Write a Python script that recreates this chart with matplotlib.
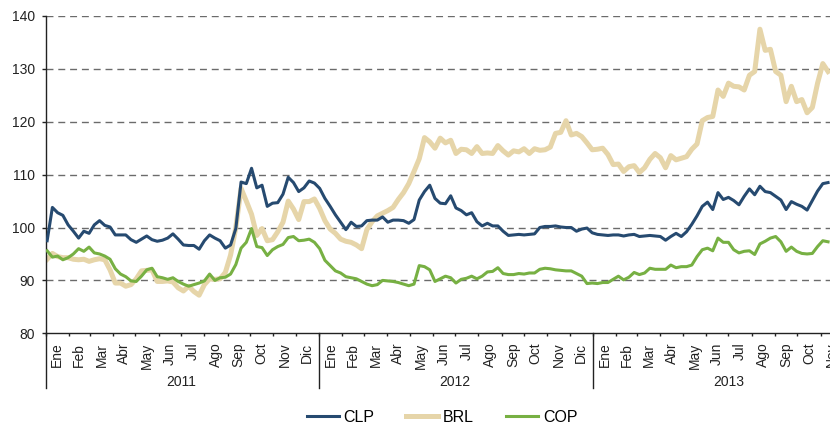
import matplotlib.pyplot as plt
import matplotlib.dates as mdates
import matplotlib.transforms as mtransforms
import pandas as pd

plt.rcParams['font.family'] = ['Liberation Sans', 'DejaVu Sans']

# Paridades (índice), datos semanales desde el 3 de enero de 2011
inicio = '2011-01-03'

clp = [97.5, 103.8, 102.8, 102.3, 100.5, 99.3, 98.0, 99.3, 98.9, 100.5,
       101.3, 100.4, 100.1, 98.6, 98.6, 98.6, 97.7, 97.2, 97.8, 98.4,
       97.7, 97.4, 97.6, 98.0, 98.8, 97.8, 96.7, 96.6, 96.6, 95.9,
       97.5, 98.6, 98.0, 97.5, 96.1, 96.7, 99.8, 108.6, 108.3, 111.2,
       107.5, 108.0, 104.0, 104.6, 104.7, 106.3, 109.5, 108.5, 106.8, 107.5,
       108.8, 108.4, 107.4, 105.5, 104.0, 102.4, 101.0, 99.6, 101.0, 100.2,
       100.3, 101.3, 101.4, 101.4, 102.0, 101.0, 101.4, 101.4, 101.3, 100.8,
       101.5, 105.2, 106.8, 108.0, 105.5, 104.6, 104.5, 106.0, 103.7, 103.2,
       102.4, 102.8, 101.1, 100.3, 100.8, 100.3, 100.3, 99.3, 98.5, 98.6,
       98.7, 98.6, 98.7, 98.8, 100.0, 100.2, 100.2, 100.3, 100.1, 100.0,
       100.0, 99.3, 99.7, 99.9, 99.0, 98.7, 98.6, 98.5, 98.6, 98.6,
       98.4, 98.6, 98.7, 98.3, 98.4, 98.5, 98.4, 98.3, 97.6, 98.3,
       98.9, 98.3, 99.2, 100.6, 102.2, 104.0, 104.8, 103.4, 106.6, 105.3,
       105.7, 105.1, 104.3, 105.9, 107.3, 106.2, 107.8, 106.8, 106.6, 105.9,
       105.2, 103.4, 104.9, 104.4, 104.0, 103.3, 105.1, 106.9, 108.3, 108.5]

brl = [94.0, 95.1, 94.5, 94.3, 94.3, 94.0, 93.9, 94.0, 93.6, 93.9,
       94.1, 93.9, 92.0, 89.5, 89.5, 88.9, 89.2, 90.3, 91.8, 91.9,
       92.0, 89.8, 89.8, 89.9, 89.7, 88.6, 88.0, 88.9, 87.9, 87.2,
       89.2, 90.3, 90.2, 90.3, 91.5, 94.8, 100.0, 107.4, 105.0, 102.5,
       98.5, 99.8, 97.5, 97.7, 99.2, 101.0, 105.0, 103.5, 101.5, 104.9,
       104.9, 105.4, 103.6, 101.3, 99.7, 98.9, 97.8, 97.4, 97.2, 96.7,
       96.0, 99.6, 101.1, 102.2, 102.7, 103.2, 103.8, 105.3, 106.6, 108.3,
       110.6, 113.0, 117.0, 116.2, 115.0, 116.9, 116.0, 116.5, 114.0, 114.8,
       114.7, 114.0, 115.3, 114.0, 114.1, 114.0, 115.5, 114.5, 113.7, 114.5,
       114.3, 114.9, 114.0, 114.9, 114.6, 114.7, 115.2, 117.8, 118.0, 120.2,
       117.5, 117.8, 117.2, 116.0, 114.7, 114.8, 115.0, 113.8, 111.9, 112.0,
       110.6, 111.5, 111.7, 110.4, 111.3, 112.9, 114.0, 113.2, 111.3, 113.6,
       112.8, 113.1, 113.4, 114.8, 115.8, 120.2, 120.8, 121.0, 126.0, 124.8,
       127.3, 126.7, 126.6, 126.0, 128.8, 129.5, 137.5, 133.5, 133.7, 129.5,
       128.8, 123.8, 126.7, 123.8, 124.2, 121.7, 122.7, 127.3, 131.0, 129.5]

cop = [95.6, 94.4, 94.6, 93.9, 94.3, 95.0, 96.0, 95.5, 96.3, 95.2,
       95.0, 94.6, 94.0, 92.2, 91.2, 90.7, 89.9, 89.8, 90.8, 92.0,
       92.3, 90.7, 90.5, 90.2, 90.5, 89.8, 89.3, 88.9, 89.2, 89.5,
       89.9, 91.2, 90.0, 90.5, 90.6, 91.2, 93.0, 96.1, 97.2, 99.8,
       96.4, 96.2, 94.7, 95.8, 96.4, 96.8, 98.1, 98.3, 97.5, 97.6,
       97.8, 97.2, 96.0, 93.8, 92.8, 91.8, 91.4, 90.7, 90.5, 90.3,
       89.8, 89.3, 89.0, 89.2, 90.0, 89.9, 89.8, 89.6, 89.3, 89.0,
       89.3, 92.8, 92.6, 92.0, 89.8, 90.3, 90.8, 90.5, 89.5, 90.2,
       90.4, 90.8, 90.3, 90.8, 91.6, 91.7, 92.4, 91.3, 91.1, 91.1,
       91.3, 91.2, 91.4, 91.4, 92.1, 92.3, 92.2, 92.0, 91.9, 91.8,
       91.8, 91.3, 90.8, 89.4, 89.5, 89.4, 89.6, 89.6, 90.2, 90.8,
       90.1, 90.6, 91.5, 91.1, 91.4, 92.3, 92.1, 92.1, 92.1, 92.9,
       92.4, 92.6, 92.6, 92.9, 94.5, 95.8, 96.1, 95.6, 98.0, 97.2,
       97.2, 95.8, 95.2, 95.5, 95.6, 94.9, 96.9, 97.4, 98.0, 98.3,
       97.3, 95.5, 96.3, 95.5, 95.1, 95.0, 95.1, 96.4, 97.5, 97.3]

meses = ['Ene', 'Feb', 'Mar', 'Abr', 'May', 'Jun',
         'Jul', 'Ago', 'Sep', 'Oct', 'Nov', 'Dic']
anios = ['2011', '2012', '2013']

fechas = pd.date_range(inicio, periods=len(clp), freq='7D')

fig = plt.figure(figsize=(8.3, 4.25), dpi=100)
ax = fig.add_axes([0.055, 0.2158, 0.945, 0.7466])

l_brl, = ax.plot(fechas, brl, color='#E6D5A9', lw=3.6, zorder=2, solid_joinstyle='round')
l_clp, = ax.plot(fechas, clp, color='#264A70', lw=2.2, zorder=3, solid_joinstyle='round')
l_cop, = ax.plot(fechas, cop, color='#77B043', lw=2.2, zorder=4, solid_joinstyle='round')

# eje y
ax.set_ylim(80, 140)
ax.set_yticks(range(80, 141, 10))
ax.tick_params(axis='y', direction='out', length=3, width=1, pad=4.5,
               labelsize=10, colors='#222222')
for y in range(90, 141, 10):
    ax.axhline(y, color='#6b6b6b', lw=1.0, ls=(0, (5, 3.5)), zorder=1)

# eje x: marcas en el inicio de cada mes
x0 = pd.Timestamp('2011-01-01')
ax.set_xlim(mdates.date2num(x0), mdates.date2num(x0 + pd.Timedelta(days=1047.6)))
inicios_mes = pd.date_range('2011-01-01', '2013-12-01', freq='MS')
ax.set_xticks(inicios_mes[:-1])
ax.set_xticklabels([])
ax.tick_params(axis='x', direction='out', length=2.5, width=1, colors='#222222')

for s in ['top', 'right']:
    ax.spines[s].set_visible(False)
for s in ['left', 'bottom']:
    ax.spines[s].set_color('#222222')
    ax.spines[s].set_linewidth(1.0)

trans = mtransforms.blended_transform_factory(ax.transData, ax.transAxes)

# etiquetas de mes centradas en cada mes
for a, b in zip(inicios_mes[:-1], inicios_mes[1:]):
    centro = a + (b - a) / 2
    ax.annotate(meses[a.month - 1], xy=(mdates.date2num(centro), 0), xycoords=trans,
                xytext=(0, -6.8), textcoords='offset points', rotation=90,
                ha='center', va='top', fontsize=10, color='#222222',
                annotation_clip=False)

# separadores y etiquetas de año
for i, anio in enumerate(anios):
    ini = pd.Timestamp(f'{anio}-01-01')
    xi = mdates.date2num(ini)
    ax.plot([xi, xi], [0, -0.1735], transform=trans, color='#222222', lw=1.0,
            clip_on=False)
    medio = mdates.date2num(pd.Timestamp(f'{anio}-07-01'))
    ax.text(medio, -0.1527, anio, transform=trans, ha='center', va='center',
            fontsize=10, color='#222222')

fig.legend([l_clp, l_brl, l_cop], ['CLP', 'BRL', 'COP'], loc='center',
           bbox_to_anchor=(442 / 830, 1 - 417 / 425), ncol=3, frameon=False,
           fontsize=11.5, handlelength=2.0, handletextpad=0.3, columnspacing=2.0)

fig.savefig('out.png', dpi=100)
